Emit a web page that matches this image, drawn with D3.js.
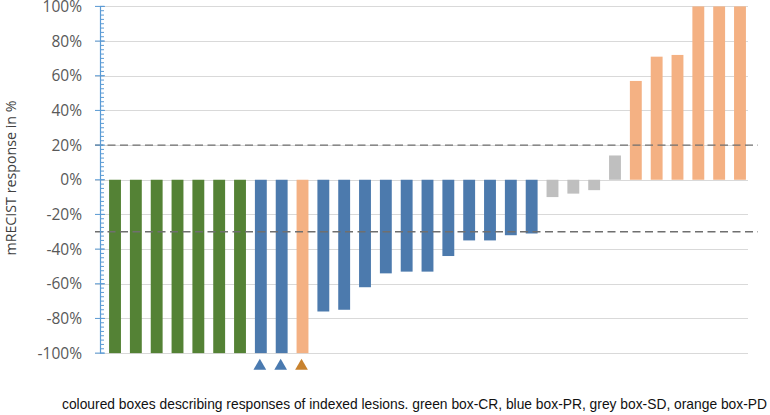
<!DOCTYPE html>
<html>
<head>
<meta charset="utf-8">
<script src="https://cdn.jsdelivr.net/npm/d3@7"></script>
<style>
  html, body { margin: 0; padding: 0; background: #fff; }
  svg { display: block; }
</style>
</head>
<body>
<svg id="chart" width="770" height="415"></svg>
<script>
// ---- data ----
const lesions = d3.range(1, 32).map(String);
const responses = [-100, -100, -100, -100, -100, -100, -100,
                   -100, -100, -100,
                   -76, -75, -62, -54, -53, -53, -44, -35, -35, -32, -31,
                   -10, -8, -6, 14,
                   57, 71, 72, 100, 100, 100];
const categories = ["CR","CR","CR","CR","CR","CR","CR",
                    "PR","PR","PD",
                    "PR","PR","PR","PR","PR","PR","PR","PR","PR","PR","PR",
                    "SD","SD","SD","SD",
                    "PD","PD","PD","PD","PD","PD"];
const markedLesions = ["8", "9", "10"];
const markedCategories = ["PR", "PR", "PD"];
const yTicks = [-100, -80, -60, -40, -20, 0, 20, 40, 60, 80, 100];
const thresholds = [20, -30];
const yLabel = "mRECIST response in %";
const caption = "coloured boxes describing responses of indexed lesions. green box-CR, blue box-PR, grey box-SD, orange box-PD";

// ---- styles ----
const barColor = {CR: "#548235", PR: "#4c7aad", SD: "#bfbfbf", PD: "#f4b183"};
const markColor = {PR: "#4a7ab0", PD: "#c8822e"};

const svg = d3.select("#chart");

const x = d3.scaleBand().domain(lesions).range([104.6, 750.4])
  .paddingInner(0.43).paddingOuter(0.215);
const y = d3.scaleLinear().domain([-100, 100]).range([353.1, 6.4]);

// gridlines
svg.append("g").selectAll("line").data(yTicks).join("line")
  .attr("x1", 95).attr("x2", 748)
  .attr("y1", d => Math.round(y(d)) + 0.5).attr("y2", d => Math.round(y(d)) + 0.5)
  .attr("stroke", "#d9d9d9").attr("stroke-width", 1);

// bars
svg.append("g").selectAll("rect").data(responses).join("rect")
  .attr("x", (d, i) => x(lesions[i]))
  .attr("width", x.bandwidth())
  .attr("y", d => y(Math.max(0, d)))
  .attr("height", d => Math.abs(y(d) - y(0)))
  .attr("fill", (d, i) => barColor[categories[i]]);

// threshold dashed lines
svg.append("g").selectAll("line").data(thresholds).join("line")
  .attr("x1", 95).attr("x2", 758)
  .attr("y1", d => y(d)).attr("y2", d => y(d))
  .attr("stroke", "#6f6f6f").attr("stroke-width", 1.4)
  .attr("stroke-dasharray", "8,4.5");

// y axis
const axis = d3.axisLeft(y).tickValues(yTicks).tickFormat(d => d + "%").tickSize(0).tickPadding(18);
const gAxis = svg.append("g").attr("transform", "translate(100,0)").call(axis);
gAxis.select(".domain").attr("stroke", "#5b9bd5").attr("stroke-width", 1.2);
gAxis.selectAll("text")
  .attr("font-family", "'Open Sans', 'Liberation Sans', sans-serif")
  .attr("font-size", 15.5).attr("fill", "#595959");

// minor ticks (inside)
const minor = d3.range(-100, 100.01, 2.5);
svg.append("g").selectAll("line").data(minor).join("line")
  .attr("x1", 100).attr("x2", 104)
  .attr("y1", d => y(d)).attr("y2", d => y(d))
  .attr("stroke", "#5b9bd5").attr("stroke-width", 1);
// major ticks
svg.append("g").selectAll("line").data(yTicks).join("line")
  .attr("x1", 95).attr("x2", 105)
  .attr("y1", d => y(d)).attr("y2", d => y(d))
  .attr("stroke", "#5b9bd5").attr("stroke-width", 1);

// triangle markers
const tri = d3.symbol().type(d3.symbolTriangle).size(70);
svg.append("g").selectAll("path").data(markedLesions).join("path")
  .attr("d", tri)
  .attr("transform", d => `translate(${x(d) + x.bandwidth() / 2 - 1},${366})`)
  .attr("fill", (d, i) => markColor[markedCategories[i]]);

// y label
svg.append("text")
  .attr("transform", "translate(16,178) rotate(-90)")
  .attr("text-anchor", "middle")
  .attr("font-family", "'Open Sans', 'Liberation Sans', sans-serif")
  .attr("font-size", 15).attr("fill", "#404040")
  .attr("textLength", 155).attr("lengthAdjust", "spacingAndGlyphs")
  .text(yLabel);

// caption
svg.append("text")
  .attr("x", 62).attr("y", 409)
  .attr("font-family", "'Liberation Sans Narrow', 'Liberation Sans', Arial, sans-serif")
  .attr("font-size", 15).attr("fill", "#111")
  .attr("textLength", 705).attr("lengthAdjust", "spacingAndGlyphs")
  .text(caption);
</script>
</body>
</html>
